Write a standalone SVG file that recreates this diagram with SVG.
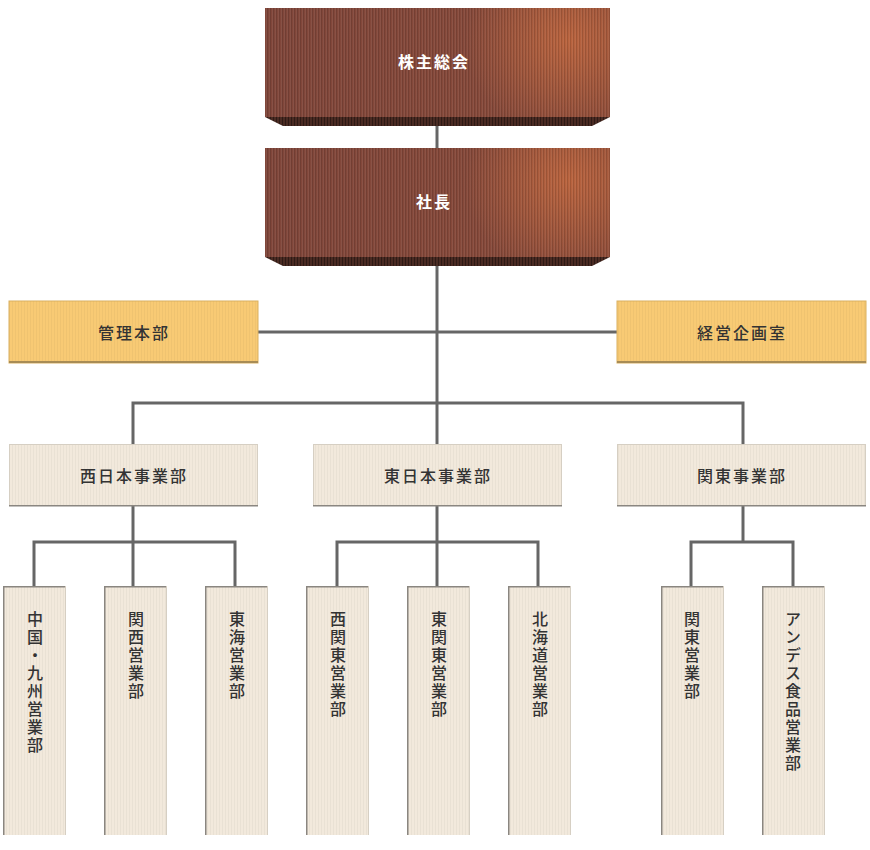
<svg xmlns="http://www.w3.org/2000/svg" width="870" height="850" viewBox="0 0 870 850">
<style>
.lbl{font-family:"Noto Sans CJK JP","Noto Sans CJK SC",sans-serif;font-size:16px;fill:#333;text-anchor:middle;dominant-baseline:central;letter-spacing:2px;font-weight:500}
.wh{fill:#fff;font-weight:bold}
.vt{font-family:"Noto Sans CJK JP","Noto Sans CJK SC",sans-serif;font-size:16px;fill:#333;writing-mode:vertical-rl;letter-spacing:2px;font-weight:500}
.con{stroke:#666;stroke-width:3;fill:none}
.beige{fill:#f2e9dc}
.yel{fill:#f8ca74}
</style>
<defs>
<linearGradient id="brownG" x1="0" y1="0" x2="1" y2="0">
<stop offset="0" stop-color="#80463a"/>
<stop offset="1" stop-color="#8a4b3a"/>
</linearGradient>
<radialGradient id="glow" cx="0.88" cy="0.3" r="0.3" gradientTransform="matrix(1 0 0 3 0 -0.6)">
<stop offset="0" stop-color="#c0673f" stop-opacity="0.9"/>
<stop offset="1" stop-color="#c0673f" stop-opacity="0"/>
</radialGradient>
<pattern id="stripes" width="3" height="10" patternUnits="userSpaceOnUse">
<rect x="0" y="0" width="1" height="10" fill="#000" fill-opacity="0.12"/>
<rect x="2" y="0" width="1" height="10" fill="#fff" fill-opacity="0.06"/>
</pattern>
<pattern id="lstripes" width="3" height="10" patternUnits="userSpaceOnUse">
<rect x="0" y="0" width="1" height="10" fill="#000" fill-opacity="0.035"/>
</pattern>
<pattern id="dstripes" width="3" height="10" patternUnits="userSpaceOnUse">
<rect x="0" y="0" width="3" height="10" fill="#4a2b23"/>
<rect x="0" y="0" width="1" height="10" fill="#2e1a15"/>
</pattern>
</defs>

<g id="connectors">
<line class="con" x1="437" y1="126" x2="437" y2="148"/>
<line class="con" x1="437" y1="266" x2="437" y2="444"/>
<line class="con" x1="258" y1="332" x2="617" y2="332"/>
<polyline class="con" points="133,444 133,403 743,403 743,444"/>
<line class="con" x1="133" y1="506" x2="133" y2="586"/>
<polyline class="con" points="34,586 34,542 235,542 235,586"/>
<line class="con" x1="437" y1="506" x2="437" y2="586"/>
<polyline class="con" points="337,586 337,542 538,542 538,586"/>
<line class="con" x1="743" y1="506" x2="743" y2="542"/>
<polyline class="con" points="691,586 691,542 793,542 793,586"/>
</g>

<g id="n-shareholders">
<polygon points="265,117 610,117 592,126 283,126" fill="url(#dstripes)"/>
<rect x="265" y="8" width="345" height="109" fill="url(#brownG)"/>
<rect x="265" y="8" width="345" height="109" fill="url(#glow)"/>
<rect x="265" y="8" width="345" height="109" fill="url(#stripes)"/>
<text class="lbl wh" x="434" y="61">株主総会</text>
</g>

<g id="n-president">
<polygon points="265,257 610,257 592,266 283,266" fill="url(#dstripes)"/>
<rect x="265" y="148" width="345" height="109" fill="url(#brownG)"/>
<rect x="265" y="148" width="345" height="109" fill="url(#glow)"/>
<rect x="265" y="148" width="345" height="109" fill="url(#stripes)"/>
<text class="lbl wh" x="434" y="201">社長</text>
</g>

<g id="n-kanri">
<rect class="yel" x="9" y="301" width="249" height="62"/>
<rect x="9" y="301" width="249" height="62" fill="url(#lstripes)"/>
<rect x="9" y="301" width="249" height="62" fill="none" stroke="#d9b060" stroke-width="1"/>
<rect x="9" y="361" width="249" height="2" fill="#a88c55"/>
<text class="lbl" x="134" y="332">管理本部</text>
</g>

<g id="n-keiei">
<rect class="yel" x="617" y="301" width="249" height="62"/>
<rect x="617" y="301" width="249" height="62" fill="url(#lstripes)"/>
<rect x="617" y="301" width="249" height="62" fill="none" stroke="#d9b060" stroke-width="1"/>
<rect x="617" y="361" width="249" height="2" fill="#a88c55"/>
<text class="lbl" x="742" y="332">経営企画室</text>
</g>

<g id="n-nishinihon">
<rect class="beige" x="9" y="444" width="249" height="62"/>
<rect x="9" y="444" width="249" height="62" fill="url(#lstripes)"/>
<rect x="9.5" y="444.5" width="248" height="61" fill="none" stroke="#d6cfc3"/>
<rect x="9" y="505" width="249" height="1.5" fill="#8a8680"/>
<text class="lbl" x="134" y="475">西日本事業部</text>
</g>

<g id="n-higashinihon">
<rect class="beige" x="313" y="444" width="249" height="62"/>
<rect x="313" y="444" width="249" height="62" fill="url(#lstripes)"/>
<rect x="313.5" y="444.5" width="248" height="61" fill="none" stroke="#d6cfc3"/>
<rect x="313" y="505" width="249" height="1.5" fill="#8a8680"/>
<text class="lbl" x="438" y="475">東日本事業部</text>
</g>

<g id="n-kanto-jigyo">
<rect class="beige" x="617" y="444" width="249" height="62"/>
<rect x="617" y="444" width="249" height="62" fill="url(#lstripes)"/>
<rect x="617.5" y="444.5" width="248" height="61" fill="none" stroke="#d6cfc3"/>
<rect x="617" y="505" width="249" height="1.5" fill="#8a8680"/>
<text class="lbl" x="742" y="475">関東事業部</text>
</g>

<g id="n-chugoku">
<rect class="beige" x="3" y="586" width="63" height="249"/>
<rect x="3" y="586" width="63" height="249" fill="url(#lstripes)"/>
<rect x="3" y="586" width="1.5" height="249" fill="#8a8680"/>
<rect x="3" y="586" width="63" height="1.5" fill="#8a8680"/>
<rect x="65" y="586" width="1" height="249" fill="#d6cfc3"/>
<text class="vt" x="35" y="611">中国・九州営業部</text>
</g>

<g id="n-kansai">
<rect class="beige" x="104" y="586" width="63" height="249"/>
<rect x="104" y="586" width="63" height="249" fill="url(#lstripes)"/>
<rect x="104" y="586" width="1.5" height="249" fill="#8a8680"/>
<rect x="104" y="586" width="63" height="1.5" fill="#8a8680"/>
<rect x="166" y="586" width="1" height="249" fill="#d6cfc3"/>
<text class="vt" x="136" y="611">関西営業部</text>
</g>

<g id="n-tokai">
<rect class="beige" x="205" y="586" width="63" height="249"/>
<rect x="205" y="586" width="63" height="249" fill="url(#lstripes)"/>
<rect x="205" y="586" width="1.5" height="249" fill="#8a8680"/>
<rect x="205" y="586" width="63" height="1.5" fill="#8a8680"/>
<rect x="267" y="586" width="1" height="249" fill="#d6cfc3"/>
<text class="vt" x="237" y="611">東海営業部</text>
</g>

<g id="n-nishikanto">
<rect class="beige" x="306" y="586" width="63" height="249"/>
<rect x="306" y="586" width="63" height="249" fill="url(#lstripes)"/>
<rect x="306" y="586" width="1.5" height="249" fill="#8a8680"/>
<rect x="306" y="586" width="63" height="1.5" fill="#8a8680"/>
<rect x="368" y="586" width="1" height="249" fill="#d6cfc3"/>
<text class="vt" x="338" y="611">西関東営業部</text>
</g>

<g id="n-higashikanto">
<rect class="beige" x="407" y="586" width="63" height="249"/>
<rect x="407" y="586" width="63" height="249" fill="url(#lstripes)"/>
<rect x="407" y="586" width="1.5" height="249" fill="#8a8680"/>
<rect x="407" y="586" width="63" height="1.5" fill="#8a8680"/>
<rect x="469" y="586" width="1" height="249" fill="#d6cfc3"/>
<text class="vt" x="439" y="611">東関東営業部</text>
</g>

<g id="n-hokkaido">
<rect class="beige" x="508" y="586" width="63" height="249"/>
<rect x="508" y="586" width="63" height="249" fill="url(#lstripes)"/>
<rect x="508" y="586" width="1.5" height="249" fill="#8a8680"/>
<rect x="508" y="586" width="63" height="1.5" fill="#8a8680"/>
<rect x="570" y="586" width="1" height="249" fill="#d6cfc3"/>
<text class="vt" x="540" y="611">北海道営業部</text>
</g>

<g id="n-kanto-eigyo">
<rect class="beige" x="661" y="586" width="63" height="249"/>
<rect x="661" y="586" width="63" height="249" fill="url(#lstripes)"/>
<rect x="661" y="586" width="1.5" height="249" fill="#8a8680"/>
<rect x="661" y="586" width="63" height="1.5" fill="#8a8680"/>
<rect x="723" y="586" width="1" height="249" fill="#d6cfc3"/>
<text class="vt" x="692" y="611">関東営業部</text>
</g>

<g id="n-andes">
<rect class="beige" x="762" y="586" width="63" height="249"/>
<rect x="762" y="586" width="63" height="249" fill="url(#lstripes)"/>
<rect x="762" y="586" width="1.5" height="249" fill="#8a8680"/>
<rect x="762" y="586" width="63" height="1.5" fill="#8a8680"/>
<rect x="824" y="586" width="1" height="249" fill="#d6cfc3"/>
<text class="vt" x="793" y="611">アンデス食品営業部</text>
</g>
</svg>
